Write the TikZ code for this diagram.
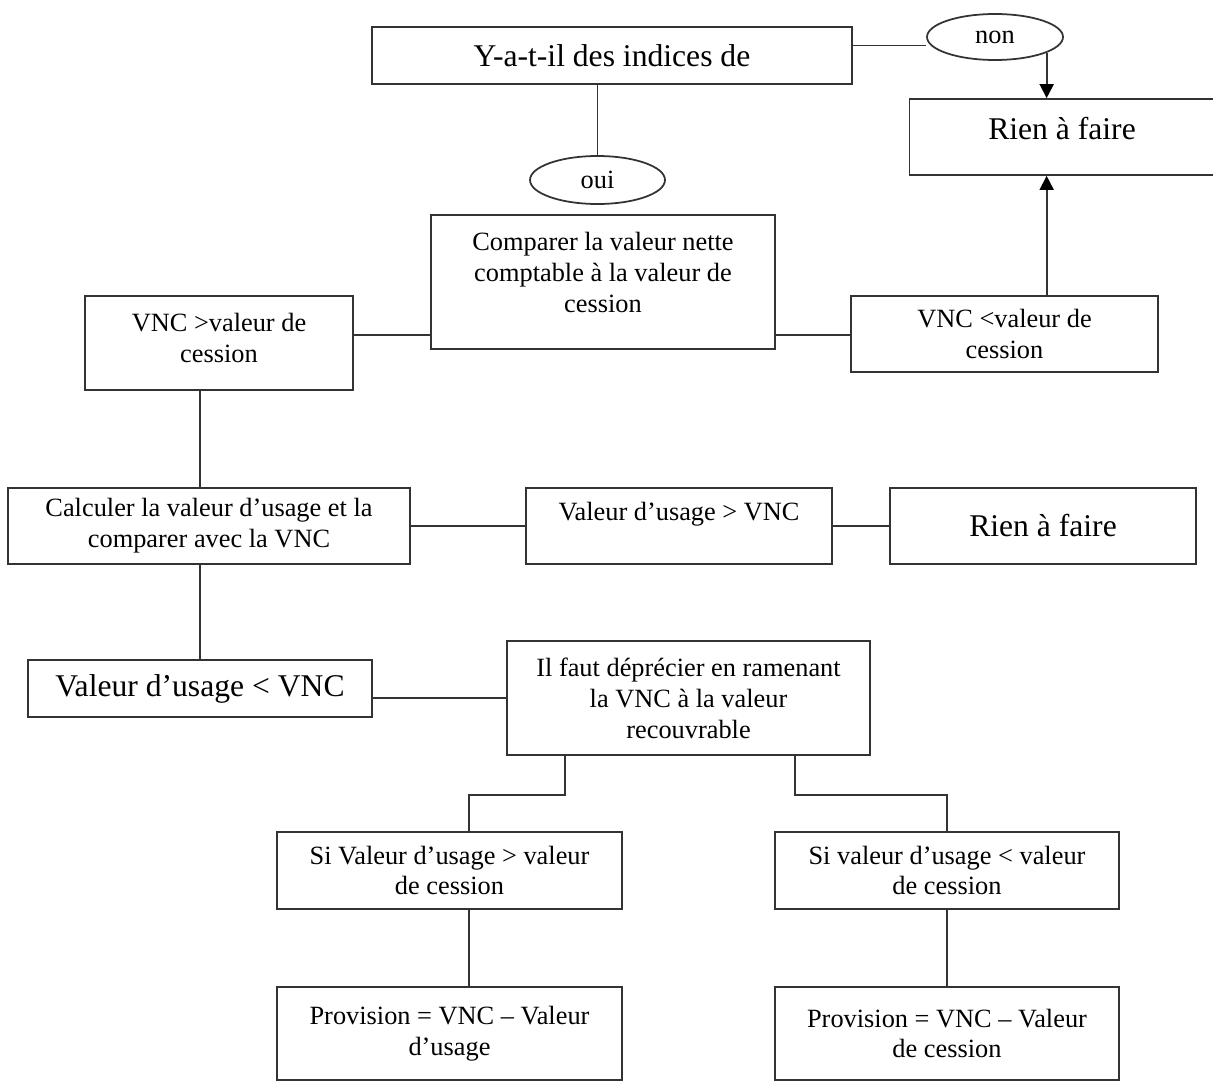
\documentclass[tikz,border=0pt]{standalone}
\usepackage{fontspec}
\setmainfont{Liberation Serif}
\usetikzlibrary{shapes.geometric,arrows.meta}

\begin{document}
\begin{tikzpicture}[x=0.02cm,y=-0.02cm,
    bx/.style={draw=black!80, line width=1pt, align=center, inner sep=0pt, font=\fontsize{15}{17.6}\selectfont},
    grand/.style={bx, font=\fontsize{18}{21}\selectfont},
    ovale/.style={draw=black!80, line width=1pt, ellipse, inner sep=0pt, font=\fontsize{15}{17.6}\selectfont},
    trait/.style={draw=black!80, line width=1pt},
    fleche/.style={trait, -{Triangle[width=8pt,length=8pt,color=black]}}]
    \useasboundingbox (0,0) rectangle (1213,1082);

    \node[grand, minimum width=9.6cm, minimum height=1.14cm] (indices) at (612,55.5) {Y-a-t-il des indices de};
    \node[ovale, minimum width=2.72cm, minimum height=0.92cm] (non) at (995,37) {non};
    \node[grand, minimum width=6.1cm, minimum height=1.52cm, text depth=0.36cm] (rien1) at (1062,137) {Rien à faire};
    \node[ovale, minimum width=2.7cm, minimum height=0.96cm] (oui) at (597.5,180) {oui};
    \node[bx, minimum width=6.88cm, minimum height=2.68cm, text depth=0.4cm] (comparer) at (603,282) {Comparer la valeur nette\\comptable à la valeur de\\cession};
    \node[bx, minimum width=5.36cm, minimum height=1.88cm, text depth=0.2cm] (vncsup) at (219,343) {VNC >valeur de\\cession};
    \node[bx, minimum width=6.14cm, minimum height=1.52cm] (vncinf) at (1004.5,334) {VNC <valeur de\\cession};
    \node[bx, minimum width=8.04cm, minimum height=1.52cm] (calculer) at (209,526) {Calculer la valeur d’usage et la\\comparer avec la VNC};
    \node[bx, minimum width=6.12cm, minimum height=1.52cm, text depth=0.6cm] (usagesup) at (679,526) {Valeur d’usage > VNC};
    \node[grand, minimum width=6.12cm, minimum height=1.52cm] (rien2) at (1043,526) {Rien à faire};
    \node[grand, minimum width=6.88cm, minimum height=1.14cm] (usageinf) at (200,688.5) {Valeur d’usage < VNC};
    \node[bx, minimum width=7.26cm, minimum height=2.28cm] (deprecier) at (688.5,698) {Il faut déprécier en ramenant\\la VNC à la valeur\\recouvrable};
    \node[bx, minimum width=6.9cm, minimum height=1.54cm] (si1) at (449.5,870.5) {Si Valeur d’usage > valeur\\de cession};
    \node[bx, minimum width=6.88cm, minimum height=1.54cm] (si2) at (947,870.5) {Si valeur d’usage < valeur\\de cession};
    \node[bx, minimum width=6.9cm, minimum height=1.86cm] (prov1) at (449.5,1033.5) {Provision = VNC – Valeur\\d’usage};
    \node[bx, minimum width=6.88cm, minimum height=1.86cm] (prov2) at (947,1033.5) {Provision = VNC – Valeur\\de cession};

    \coordinate (gauche) at (565,795);
    \coordinate (droite) at (795,795);
    \coordinate (coude) at (469,795);

    \draw[trait] ([yshift=0.2cm]indices.east) -- ([yshift=0.2cm]indices.east -| non.west);
    \draw[fleche] (non.-17) -- (non.-17 |- rien1.north);
    \draw[trait] (oui.north |- indices.south) -- (oui.north);
    \draw[trait] ([yshift=0.3cm]comparer.south west) -- ([yshift=0.3cm]comparer.south west -| vncsup.east);
    \draw[trait] ([yshift=0.3cm]comparer.south east) -- ([yshift=0.3cm]comparer.south east -| vncinf.west);
    \draw[fleche] (vncinf.north -| non.-17) -- (rien1.south -| non.-17);
    \draw[trait] (vncsup.south -| usageinf.north) -- (calculer.north -| usageinf.north);
    \draw[trait] (calculer) -- (usagesup);
    \draw[trait] (usagesup) -- (rien2);
    \draw[trait] (calculer.south -| usageinf.north) -- (usageinf.north);
    \draw[trait] (deprecier.west -| usageinf.east) -- (deprecier.west);

    \draw[trait] (deprecier.south -| gauche) -- (gauche) -- (coude) -- (coude |- si1.north);
    \draw[trait] (deprecier.south -| droite) -- (droite) -| (si2.north);
    \draw[trait] (si1.south -| coude) -- (prov1.north -| coude);
    \draw[trait] (si2) -- (prov2);

\end{tikzpicture}
\end{document}
